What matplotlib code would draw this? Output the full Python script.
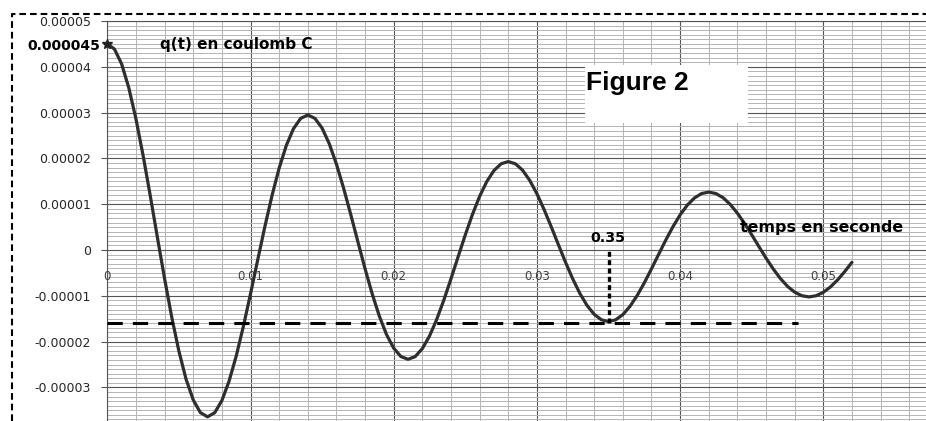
import matplotlib
matplotlib.use("Agg")
import matplotlib.pyplot as plt
from matplotlib.ticker import MultipleLocator
from matplotlib.lines import Line2D
from matplotlib.patches import Rectangle
import numpy as np

# q(t), every 0.5 ms, in micro-coulomb
t_step = 0.0005
q_micro = [
    45.00, 43.87, 40.62, 35.43, 28.64, 20.63, 11.85, 2.73, -6.25, -14.66,
    -22.08, -28.20, -32.72, -35.50, -36.42, -35.52, -32.87, -28.67, -23.18, -16.70,
    -9.58, -2.21, 5.06, 11.86, 17.87, 22.82, 26.48, 28.73, 29.48, 28.74,
    26.61, 23.21, 18.76, 13.51, 7.76, 1.79, -4.09, -9.60, -14.46, -18.47,
    -21.43, -23.25, -23.86, -23.27, -21.53, -18.78, -15.18, -10.94, -6.28, -1.45,
    3.31, 7.77, 11.71, 14.95, 17.35, 18.82, 19.31, 18.83, 17.43, 15.20,
    12.29, 8.85, 5.09, 1.17, -2.68, -6.29, -9.47, -12.10, -14.04, -15.23,
    -15.63, -15.24, -14.11, -12.30, -9.95, -7.17, -4.11, -0.95, 2.17, 5.09,
    7.67, 9.79, 11.36, 12.33, 12.65, 12.33, 11.42, 9.96, 8.05, 5.80,
    3.33, 0.77, -1.76, -4.12, -6.21, -7.93, -9.20, -9.98, -10.24, -9.98,
    -9.24, -8.06, -6.52, -4.69, -2.69,
]

x_ticks = [0, 0.01, 0.02, 0.03, 0.04, 0.05]
x_tick_labels = ["0", "0.01", "0.02", "0.03", "0.04", "0.05"]
y_ticks = [5e-5, 4e-5, 3e-5, 2e-5, 1e-5, 0, -1e-5, -2e-5, -3e-5]
y_tick_labels = ["0.00005", "0.00004", "0.00003", "0.00002", "0.00001",
                 "0", "-0.00001", "-0.00002", "-0.00003"]

q0_label = "0.000045"
level_q = -1.6e-5        # horizontal dashed line
level_end = 0.0482       # where it stops
t_mark = 0.035           # dotted vertical mark
t_mark_label = "0.35"

t = np.arange(len(q_micro)) * t_step
q = np.array(q_micro) * 1e-6

W, H = 926, 421
fig = plt.figure(figsize=(W / 100, H / 100), dpi=100)
ax = fig.add_axes([107.3 / W, 0, 1 - 107.3 / W, 1 - 21 / H])
ax.set_xlim(0, (W - 107.3) / 14320)
ax.set_ylim(-3.733e-5, 5e-5)

# excel-like grid
ax.xaxis.set_major_locator(MultipleLocator(0.01))
ax.xaxis.set_minor_locator(MultipleLocator(0.002))
ax.set_yticks(y_ticks)
ax.set_yticklabels(y_tick_labels)
ax.yaxis.set_minor_locator(MultipleLocator(1e-6))
ax.grid(which="minor", color="#b4b4b4", linewidth=0.7)
ax.grid(which="major", color="#555555", linewidth=0.8)

for s in ("right", "bottom"):
    ax.spines[s].set_visible(False)
for s in ("left", "top"):
    ax.spines[s].set_color("#555555")
    ax.spines[s].set_linewidth(0.8)

ax.tick_params(axis="x", which="both", length=0, labelbottom=False)
ax.tick_params(axis="y", which="major", direction="out", length=4, width=0.8,
               color="#555555", pad=8, labelsize=9, labelcolor="#262626")
ax.tick_params(axis="y", which="minor", length=0)

for xv, lab in zip(x_ticks, x_tick_labels):
    ax.text(xv, -5.7e-6, lab, ha="center", va="center", fontsize=8.5,
            color="#404040", zorder=3)

# curve
ax.plot(t, q, color="#2e2e2e", linewidth=2.3, solid_joinstyle="round",
        solid_capstyle="round", zorder=4)
ax.plot([t[0]], [q[0]], marker="*", markersize=7, color="#222222",
        clip_on=False, zorder=5)

# dashed marks for the 4th minimum
ax.plot([0, level_end], [level_q, level_q], color="black", linewidth=2.2,
        linestyle=(0, (5, 3.3)), zorder=5)
ax.plot([t_mark, t_mark], [level_q, 0], color="black", linewidth=2.4,
        linestyle=(0, (1.5, 1)), zorder=5)

# texts
fig.text(100 / W, 1 - 50 / H, q0_label, ha="right", va="baseline",
         fontsize=10, fontweight="bold")
fig.text(160 / W, 1 - 49 / H, "q(t) en coulomb C", ha="left", va="baseline",
         fontsize=11, fontweight="bold")
fig.text(740 / W, 1 - 231.7 / H, "temps en seconde", ha="left", va="baseline",
         fontsize=11.4, fontweight="bold")
fig.text(590 / W, 1 - 242.3 / H, t_mark_label, ha="left", va="baseline",
         fontsize=10.2, fontweight="bold")

fig.patches.append(Rectangle((585 / W, 1 - 123 / H), 163 / W, 58 / H,
                             transform=fig.transFigure, facecolor="white",
                             edgecolor="none", zorder=1))
fig.text(586 / W, 1 - 90 / H, "Figure 2", ha="left", va="baseline",
         fontsize=19, fontweight="bold", family="Liberation Sans")

# dashed outer frame (top and left)
fig.add_artist(Line2D([12 / W, 12 / W, 1], [0, 1 - 14 / H, 1 - 14 / H],
                      transform=fig.transFigure, color="black", linewidth=1.5,
                      linestyle=(0, (3.2, 1.9))))

fig.savefig("out.png", dpi=100)
